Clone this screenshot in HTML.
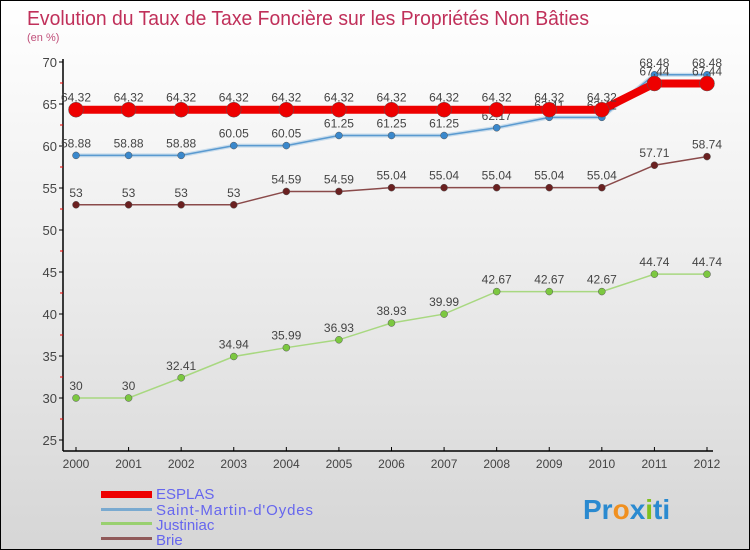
<!DOCTYPE html>
<html><head><meta charset="utf-8"><style>
body{margin:0;}
#c{width:750px;height:550px;position:relative;overflow:hidden;border:1px solid #000;box-sizing:border-box;background:linear-gradient(#ffffff 0%,#f0f0f0 40%,#d6d6d6 100%);font-family:"Liberation Sans",sans-serif;}
</style></head><body>
<div id="c">
<svg id="s" width="750" height="550" style="position:absolute;left:0;top:0">
<text x="26" y="24" font-size="20" fill="#c0305a" textLength="562" lengthAdjust="spacingAndGlyphs">Evolution du Taux de Taxe Foncière sur les Propriétés Non Bâties</text>
<text x="26" y="40" font-size="11" fill="#c0507a">(en %)</text>
<g id="axes"></g><g id="marks"></g>
<g>
<rect x="100" y="490" width="51" height="7" fill="#e00"/>
<text x="155" y="498" font-size="15" fill="#6666ee">ESPLAS</text>
<rect x="100" y="507" width="51" height="3" fill="#7aaad0"/>
<text x="155" y="514" font-size="15" fill="#6666ee" textLength="157">Saint-Martin-d'Oydes</text>
<rect x="100" y="521" width="51" height="3" fill="#99d070"/>
<text x="155" y="529" font-size="15" fill="#6666ee">Justiniac</text>
<rect x="100" y="536" width="51" height="3" fill="#905a5a"/>
<text x="155" y="544" font-size="15" fill="#6666ee">Brie</text>
</g>
<text x="582" y="518" font-size="28" font-weight="bold"><tspan fill="#2a8ad0">Pr</tspan><tspan fill="#f09020">o</tspan><tspan fill="#2a8ad0">x</tspan><tspan fill="#80c020">i</tspan><tspan fill="#2a8ad0">ti</tspan></text>
</svg>
</div>
<script>
const years=[2000,2001,2002,2003,2004,2005,2006,2007,2008,2009,2010,2011,2012];
const yTicks=[25,30,35,40,45,50,55,60,65,70];
const esplas=[64.32,64.32,64.32,64.32,64.32,64.32,64.32,64.32,64.32,64.32,64.32,67.44,67.44];
const stMartin=[58.88,58.88,58.88,60.05,60.05,61.25,61.25,61.25,62.17,63.41,63.41,68.48,68.48];
const justiniac=[30,30,32.41,34.94,35.99,36.93,38.93,39.99,42.67,42.67,42.67,44.74,44.74];
const brie=[53,53,53,53,54.59,54.59,55.04,55.04,55.04,55.04,55.04,57.71,58.74];
const NS='http://www.w3.org/2000/svg';
function X(i){return 75+i*(706-75)/12;}
function Y(v){return 61+(70-v)*(439-61)/45;}
function mk(t,a,p){const e=document.createElementNS(NS,t);for(const k in a)e.setAttribute(k,a[k]);p.appendChild(e);return e;}
const ax=document.getElementById('axes'),mg=document.getElementById('marks');
const yl=mk('line',{x1:62,y1:58,x2:62,y2:450,stroke:'#000','stroke-width':1.5},ax);


const xl=mk('line',{x1:62,y1:450,x2:712,y2:450,stroke:'#000','stroke-width':1.5},ax);


yTicks.forEach(v=>{
 mk('line',{x1:58,y1:Y(v),x2:62,y2:Y(v),stroke:'#000'},ax);
 if(v<70)mk('line',{x1:59,y1:Y(v+2.5),x2:62,y2:Y(v+2.5),stroke:'#e00'},ax);
 const t=mk('text',{x:56,y:Y(v)+5,'font-size':13,fill:'#444','text-anchor':'end'},ax);t.textContent=v;
 
 
});
years.forEach((y,i)=>{
 mk('line',{x1:X(i),y1:446,x2:X(i),y2:450,stroke:'#000'},ax);
 const t=mk('text',{x:X(i),y:467,'font-size':12,fill:'#444','text-anchor':'middle'},ax);t.textContent=y;
 
 
});
function series(vals,name,col,dot,lw,r){
 const g=mk('g',{},mg);
 
 
 if(name==='saint-martin'){mk('polyline',{points:vals.map((v,i)=>X(i)+','+Y(v)).join(' '),fill:'none',stroke:'#c8dcec','stroke-width':4},g);}
 mk('polyline',{points:vals.map((v,i)=>X(i)+','+Y(v)).join(' '),fill:'none',stroke:col,'stroke-width':lw},g);
 vals.forEach((v,i)=>{
  const c=mk('circle',{cx:X(i),cy:Y(v),r:r,fill:dot,stroke:'#555','stroke-width':0.5},g);
  
  
  const t=mk('text',{x:X(i),y:Y(v)-8,'font-size':12,fill:'#444','text-anchor':'middle'},g);t.textContent=v;
  
  
 });
}
series(justiniac,'justiniac','#a8d880','#7cc840',1.5,3.5);
series(brie,'brie','#8a4a4a','#6a2020',1.5,3.5);
series(stMartin,'saint-martin','#5a9ad0','#3a88cc',1.5,3.5);
series(esplas,'esplas','#e00','#e00',8,7.5);
</script>
</body></html>
